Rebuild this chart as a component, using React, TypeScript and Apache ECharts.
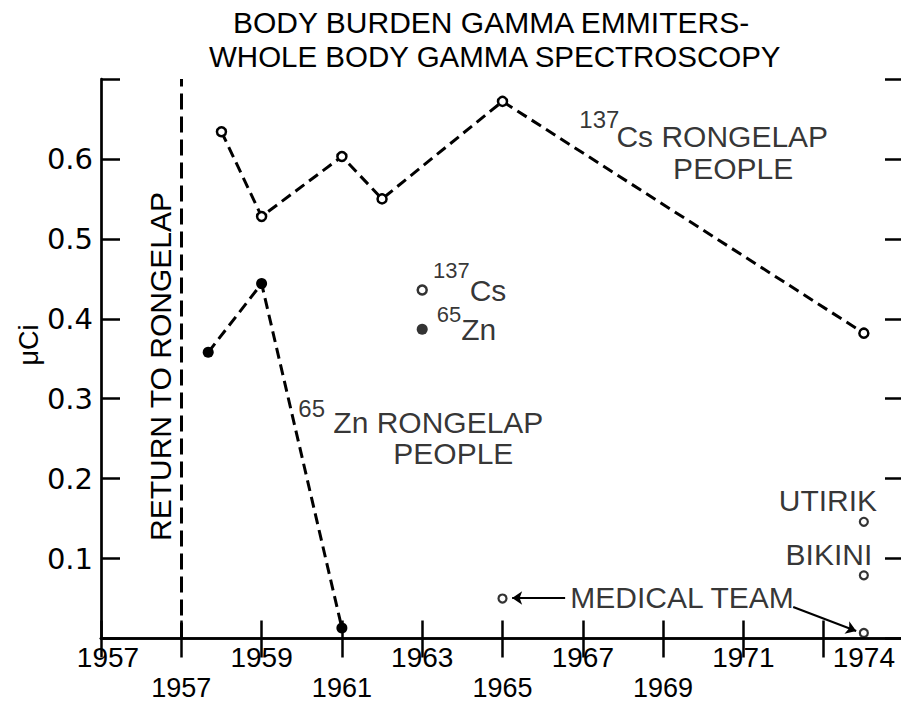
import React, { useEffect, useRef } from 'react';
import * as echarts from 'echarts';

// ---- data ----
const csYears = [1958, 1959, 1961, 1962, 1965, 1974];
const csValues = [0.634, 0.528, 0.603, 0.55, 0.672, 0.382];
const znYears = [1957.67, 1959, 1961];
const znValues = [0.358, 0.444, 0.013];
const keyYear = 1963;
const keyCsValue = 0.436;
const keyZnValue = 0.387;
const otherYears = [1974, 1974, 1965, 1974];
const otherValues = [0.146, 0.079, 0.05, 0.007];
const returnYear = 1957;

const xLabelYears = [1955, 1957, 1959, 1961, 1963, 1965, 1967, 1969, 1971, 1974];
const xLabelTexts = ['1957', '1957', '1959', '1961', '1963', '1965', '1967', '1969', '1971', '1974'];
const xLabelRows = ['f', 'b', 't', 'b', 't', 'b', 't', 'b', 't', 't'];
const yTickLabels = ['0.1', '0.2', '0.3', '0.4', '0.5', '0.6'];

const annotationTexts = ['137', 'Cs RONGELAP', 'PEOPLE', '65', 'Zn RONGELAP', 'PEOPLE', 'UTIRIK', 'BIKINI', 'MEDICAL TEAM'];
const annotationYears = [1967.91, 1973.11, 1972.24, 1959.914, 1960.786, 1962.28, 1974.33, 1974.21, 1966.69];
const annotationValues = [0.649, 0.628, 0.5875, 0.2879, 0.2703, 0.2309, 0.1721, 0.1045, 0.0513];
const annotationAligns = ['right', 'right', 'right', 'left', 'left', 'left', 'right', 'right', 'left'];
const annotationSizes = [24, 30, 30, 24, 30, 30, 30, 30, 30];

const arrowFromYears = [1966.56, 1972.24];
const arrowFromValues = [0.0507, 0.0394];
const arrowToYears = [1965.24, 1973.81];
const arrowToValues = [0.0507, 0.0094];

const titleLines = ['BODY BURDEN GAMMA EMMITERS-', 'WHOLE BODY GAMMA SPECTROSCOPY'];

export default function App() {
  const ref = useRef<HTMLDivElement>(null);

  useEffect(() => {
    const chart = echarts.init(ref.current!, null, { renderer: 'svg', width: 901, height: 702 });
    const FONT = '"Liberation Sans", Arial, sans-serif';
    const black = '#000';
    const rich: any = {
      m: { fontFamily: FONT, fontSize: 30, color: black },
      sa: { fontFamily: FONT, fontSize: 22, color: black, padding: [0, 0, 40, 0] },
      sb: { fontFamily: FONT, fontSize: 22, color: black, padding: [0, 0, 30, 0] },
    };
    const xRich: any = {
      t: { fontFamily: FONT, fontSize: 28, color: black },
      f: { fontFamily: FONT, fontSize: 28, color: black, padding: [0, 0, 0, 14] },
      b: { fontFamily: FONT, fontSize: 27, color: black, padding: [31, 0, 0, 0] },
    };
    const axisLineStyle = { color: black, width: 2.7 };
    const tickStyle = { color: black, width: 2.5 };

    const option: any = {
      animation: false,
      backgroundColor: '#fff',
      grid: { left: 101, top: 79, right: -3, bottom: 63.5, containLabel: false, outerBoundsMode: 'none' },
      xAxis: [
        {
          type: 'value',
          position: 'bottom',
          min: 1955,
          max: 1975,
          interval: 2,
          axisLine: { show: true, lineStyle: axisLineStyle },
          axisTick: { show: true, inside: true, length: 18, lineStyle: tickStyle },
          axisLabel: {
            show: true,
            customValues: xLabelYears,
            margin: 5,
            formatter: (v: number) => {
              const i = xLabelYears.indexOf(v);
              return i < 0 ? '' : `{${xLabelRows[i]}|${xLabelTexts[i]}}`;
            },
            rich: xRich,
          },
          splitLine: { show: false },
        },
        {
          type: 'value',
          position: 'top',
          min: 1955,
          max: 1975,
          interval: 2,
          axisLine: { show: true, lineStyle: axisLineStyle },
          axisTick: { show: true, inside: true, length: 19, lineStyle: tickStyle },
          axisLabel: { show: false },
          splitLine: { show: false },
        },
      ],
      yAxis: [
        {
          type: 'value',
          position: 'left',
          min: 0,
          max: 0.7,
          interval: 0.1,
          axisLine: { show: true, lineStyle: axisLineStyle },
          axisTick: { show: true, inside: true, length: 19, lineStyle: tickStyle },
          axisLabel: {
            show: true,
            margin: 8,
            fontFamily: '"DejaVu Sans", sans-serif',
            fontSize: 29,
            color: black,
            formatter: (v: number) => yTickLabels[Math.round(v * 10) - 1] ?? '',
          },
          splitLine: { show: false },
        },
        {
          type: 'value',
          position: 'right',
          min: 0,
          max: 0.7,
          interval: 0.1,
          axisLine: { show: true, lineStyle: axisLineStyle },
          axisTick: { show: true, inside: true, length: 19, lineStyle: tickStyle },
          axisLabel: { show: false },
          splitLine: { show: false },
        },
      ],
      graphic: [
        {
          type: 'text',
          x: 233,
          y: 22.5,
          silent: true,
          style: { text: titleLines[0], fontFamily: FONT, fontSize: 30, fill: black, align: 'left', verticalAlign: 'middle' },
        },
        {
          type: 'text',
          x: 209,
          y: 56.5,
          silent: true,
          style: { text: titleLines[1], fontFamily: FONT, fontSize: 29.5, fill: black, align: 'left', verticalAlign: 'middle' },
        },
        {
          type: 'text',
          x: 29,
          y: 345,
          rotation: Math.PI / 2,
          silent: true,
          style: { text: 'μCi', fontFamily: FONT, fontSize: 27, fill: black, align: 'center', verticalAlign: 'middle' },
        },
        {
          type: 'text',
          x: 160,
          y: 366.5,
          rotation: Math.PI / 2,
          silent: true,
          style: { text: 'RETURN TO RONGELAP', fontFamily: FONT, fontSize: 30, fill: black, align: 'center', verticalAlign: 'middle' },
        },
      ],
      series: [
        {
          name: '137Cs Rongelap people',
          type: 'line',
          silent: true,
          data: csYears.map((y, i) => [y, csValues[i]]),
          symbol: 'circle',
          symbolSize: 9,
          itemStyle: { color: '#fff', borderColor: black, borderWidth: 2.5 },
          lineStyle: { color: black, width: 3, type: [11, 6] },
          emphasis: { disabled: true },
          z: 3,
          markLine: {
            silent: true,
            symbol: ['none', 'none'],
            label: { show: false },
            lineStyle: { color: black, width: 3, type: [16, 7] },
            emphasis: { disabled: true },
            data: [{ xAxis: returnYear }],
          },
        },
        {
          name: '65Zn Rongelap people',
          type: 'line',
          silent: true,
          data: znYears.map((y, i) => [y, znValues[i]]),
          symbol: 'circle',
          symbolSize: 11,
          itemStyle: { color: black },
          lineStyle: { color: black, width: 3, type: [11, 6] },
          emphasis: { disabled: true },
          z: 3,
        },
        {
          name: 'key 137Cs',
          type: 'scatter',
          silent: true,
          data: [[keyYear, keyCsValue]],
          symbol: 'circle',
          symbolSize: 9,
          itemStyle: { color: '#fff', borderColor: black, borderWidth: 2.5 },
          label: { show: true, position: 'right', distance: 5, formatter: '{sa|137}{m|Cs}', rich },
          emphasis: { disabled: true },
        },
        {
          name: 'key 65Zn',
          type: 'scatter',
          silent: true,
          data: [[keyYear, keyZnValue]],
          symbol: 'circle',
          symbolSize: 11,
          itemStyle: { color: black },
          label: { show: true, position: 'right', distance: 9, formatter: '{sb|65}{m|Zn}', rich },
          emphasis: { disabled: true },
        },
        {
          name: 'other groups',
          type: 'scatter',
          silent: true,
          data: otherYears.map((y, i) => [y, otherValues[i]]),
          symbol: 'circle',
          symbolSize: 8,
          itemStyle: { color: '#fff', borderColor: black, borderWidth: 2.2 },
          emphasis: { disabled: true },
          z: 4,
          markLine: {
            silent: true,
            symbol: ['none', 'arrow'],
            symbolSize: 10,
            label: { show: false },
            lineStyle: { color: black, width: 2, type: 'solid' },
            emphasis: { disabled: true },
            data: arrowFromYears.map((y, i) => [
              { coord: [y, arrowFromValues[i]] },
              { coord: [arrowToYears[i], arrowToValues[i]] },
            ]),
          },
        },
        {
          name: 'annotations',
          type: 'scatter',
          silent: true,
          symbolSize: 0,
          emphasis: { disabled: true },
          data: annotationYears.map((y, i) => ({
            value: [y, annotationValues[i]],
            label: {
              show: true,
              position: 'inside',
              align: annotationAligns[i],
              verticalAlign: 'middle',
              formatter: annotationTexts[i],
              fontFamily: FONT,
              fontSize: annotationSizes[i],
              color: black,
            },
          })),
        },
      ],
    };
    chart.setOption(option);
    return () => chart.dispose();
  }, []);

  return (
    <div
      ref={ref}
      style={{ position: 'absolute', left: 0, top: 0, width: 901, height: 702, background: '#fff' }}
    />
  );
}
